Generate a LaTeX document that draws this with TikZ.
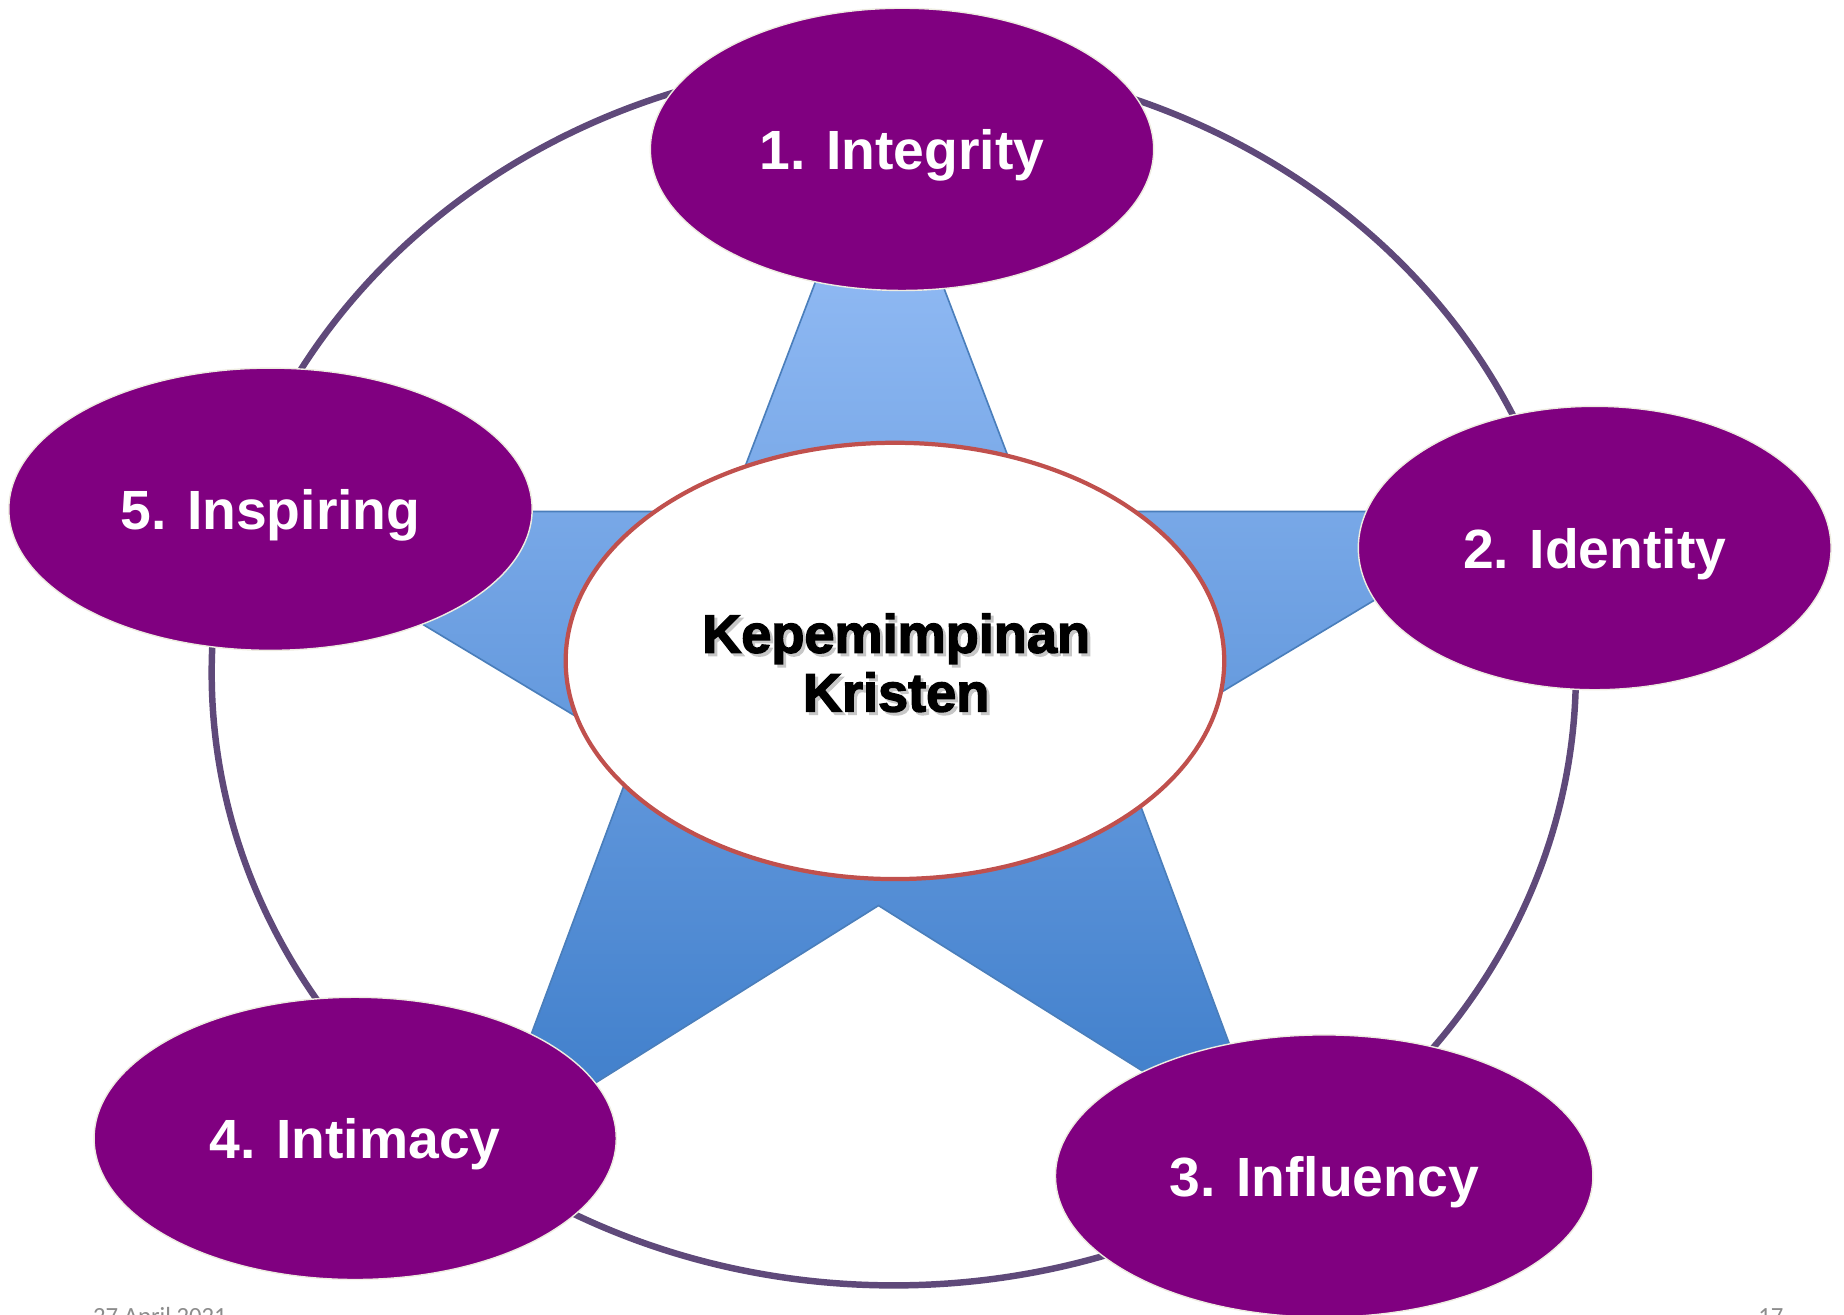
\documentclass[tikz,border=0pt]{standalone}
\usepackage{fontspec}
\setmainfont{Liberation Sans}
\newfontfamily\labelfont{Liberation Sans Bold}
\newfontfamily\heavyfont{Liberation Sans Bold}[FakeBold=2.6]
\newfontfamily\datefont{Carlito}
\usetikzlibrary{shapes.geometric}
\definecolor{petal}{HTML}{800080}
\definecolor{cream}{HTML}{EEECE1}
\definecolor{ringc}{HTML}{5F497A}
\definecolor{hubred}{HTML}{C0504D}
\definecolor{startop}{HTML}{9DC3FA}
\definecolor{starbot}{HTML}{3C7CC9}
\definecolor{staredge}{HTML}{4A7EBB}
\definecolor{footgray}{HTML}{8C8C8C}
\begin{document}
\begin{tikzpicture}[x=1pt,y=-1pt,
  petal/.style={ellipse, fill=petal, draw=cream, line width=1.2pt, inner sep=0pt,
    text=white, font=\labelfont\fontsize{47}{47}\selectfont, text height=34pt, text depth=0pt},
  hub/.style={ellipse, fill=white, draw=hubred, line width=3.6pt, inner sep=0pt},
  hubtext/.style={anchor=base, inner sep=0pt, font=\heavyfont\fontsize{46}{50}\selectfont},
  hubshadow/.style={hubtext, text=black!22},
  ringline/.style={draw=ringc, line width=5.5pt},
  starshape/.style={draw=staredge, line width=1.4pt, top color=startop, bottom color=starbot},
  starshadow/.style={fill=black, opacity=0.2},
  foot/.style={anchor=base west, inner sep=0pt, text=footgray, font=\datefont\fontsize{21}{21}\selectfont}]
\useasboundingbox (0,0) rectangle (1568,1118);
\clip (0,0) rectangle (1568,1118);
% outer ring
\draw[ringline] (760,572) ellipse [x radius=580pt, y radius=521pt];
% star
\coordinate (s1) at (747,99);
\coordinate (s2) at (875,435);
\coordinate (s3) at (1294,435);
\coordinate (s4) at (953,640);
\coordinate (s5) at (1079,978);
\coordinate (s6) at (747,770);
\coordinate (s7) at (415,978);
\coordinate (s8) at (541,640);
\coordinate (s9) at (200,435);
\coordinate (s10) at (619,435);
\fill[starshadow, xshift=1.5pt, yshift=-3pt] (s1) -- (s2) -- (s3) -- (s4) -- (s5) -- (s6) -- (s7) -- (s8) -- (s9) -- (s10) -- cycle;
\path[starshape] (s1) -- (s2) -- (s3) -- (s4) -- (s5) -- (s6) -- (s7) -- (s8) -- (s9) -- (s10) -- cycle;
% centre
\node[hub, minimum width=560pt, minimum height=371pt] (hub) at (761,562) {};
\node[hubshadow] (l1s) at (764.5,557.5) {Kepemimpinan};
\node[hubshadow] (l2s) at (764.5,607.5) {Kristen};
\node[hubtext] (l1) at (762,555) {Kepemimpinan};
\node[hubtext] (l2) at (762,605) {Kristen};
% petals
\node[petal, minimum width=428pt, minimum height=240pt] (integrity) at (767,127) {1. Integrity};
\node[petal, minimum width=402pt, minimum height=241pt] (identity) at (1356,466) {2. Identity};
\node[petal, minimum width=457pt, minimum height=240pt] (influency) at (1126,1000) {3. Influency};
\node[petal, minimum width=444pt, minimum height=240pt] (intimacy) at (302,968) {4. Intimacy};
\node[petal, minimum width=445pt, minimum height=240pt] (inspiring) at (230,433) {5. Inspiring};
% footer (cut by the lower edge, as in the reference)
\node[foot] (date) at (79,1126) {27 April 2021};
\node[foot] (page) at (1495,1126) {17};
\end{tikzpicture}
\end{document}
